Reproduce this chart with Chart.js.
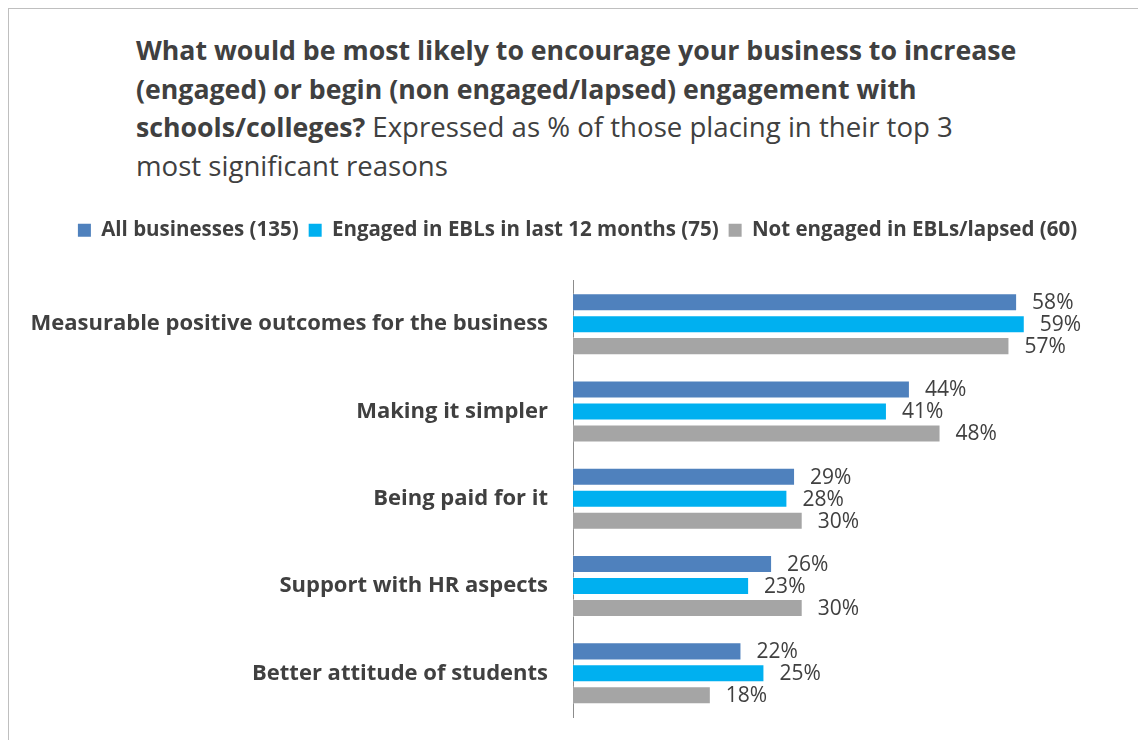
<!DOCTYPE html>
<html>
<head>
<meta charset="utf-8">
<script src="https://cdn.jsdelivr.net/npm/chart.js@4.4.1/dist/chart.umd.min.js"></script>
<style>
  html, body { margin: 0; padding: 0; background: #fff; overflow: hidden; }
  body { width: 1138px; height: 740px; position: relative; font-family: "Open Sans", sans-serif; }
  .frame { position: absolute; left: 8px; top: 8px; width: 1300px; height: 900px; border: 1px solid #bfbfbf; box-sizing: border-box; }
  .title { position: absolute; left: 136px; top: 30px; font-size: 27.6px; color: #404040; white-space: nowrap; }
  .title div { height: 38.6px; line-height: 38.6px; overflow: visible; }
  .title b { font-weight: 700; font-size: 26.7px; }
  #wrap { position: absolute; left: 0; top: 0; width: 1138px; height: 740px; }
</style>
</head>
<body>
<div class="frame"></div>
<div class="title">
  <div><b>What would be most likely to encourage your business to increase</b></div>
  <div><b>(engaged) or begin (non engaged/lapsed) engagement with</b></div>
  <div><b>schools/colleges?</b> Expressed as % of those placing in their top 3</div>
  <div>most significant reasons</div>
</div>
<div id="wrap"><canvas id="chart"></canvas></div>
<script>
// categories and series values (%)
const categories = [
  'Measurable positive outcomes for the business',
  'Making it simpler',
  'Being paid for it',
  'Support with HR aspects',
  'Better attitude of students'
];
const seriesNames = [
  'All businesses (135)',
  'Engaged in EBLs in last 12 months (75)',
  'Not engaged in EBLs/lapsed (60)'
];
const allBusinesses = [58, 44, 29, 26, 22];
const engaged = [59, 41, 28, 23, 25];
const notEngaged = [57, 48, 30, 30, 18];
const seriesColors = ['#4f81bd', '#00b0f0', '#a5a5a5'];

const textColor = '#404040';
const fontFamily = '"Open Sans", sans-serif';

// percentage labels at the end of each bar
const barLabels = {
  id: 'barLabels',
  afterDatasetsDraw(chart) {
    const ctx = chart.ctx;
    ctx.save();
    ctx.font = '21px ' + fontFamily;
    ctx.fillStyle = textColor;
    ctx.textAlign = 'left';
    ctx.textBaseline = 'middle';
    chart.data.datasets.forEach((ds, i) => {
      chart.getDatasetMeta(i).data.forEach((bar, j) => {
        ctx.fillText(ds.data[j] + '%', bar.x + 15, bar.y + 1);
      });
    });
    ctx.restore();
  }
};

// more room under the legend, and the legend nudged right
const legendTweak = {
  id: 'legendTweak',
  beforeUpdate(chart) {
    const lg = chart.legend;
    if (lg && !lg._gapPatched) {
      const fit = lg.fit;
      lg.fit = function () { fit.call(this); this.height += 30; };
      lg._gapPatched = true;
    }
  },
  afterLayout(chart) {
    chart.legend.left += 23;
    chart.legend.right += 23;
  }
};

new Chart(document.getElementById('chart'), {
  type: 'bar',
  data: {
    labels: categories,
    datasets: [allBusinesses, engaged, notEngaged].map((vals, i) => ({
      label: seriesNames[i],
      data: vals,
      backgroundColor: seriesColors[i],
      borderColor: 'rgba(255,255,255,0.35)',
      borderWidth: 1,
      categoryPercentage: 0.755,
      barPercentage: 0.82
    }))
  },
  options: {
    indexAxis: 'y',
    responsive: true,
    maintainAspectRatio: false,
    animation: false,
    layout: { padding: { top: 210, right: 29, bottom: 23, left: 0 } },
    plugins: {
      legend: {
        position: 'top',
        align: 'center',
        labels: {
          boxWidth: 13,
          boxHeight: 13,
          padding: 10,
          color: textColor,
          font: { family: fontFamily, size: 20.5, weight: 'bold' },
          generateLabels(chart) {
            return Chart.defaults.plugins.legend.labels.generateLabels(chart)
              .map(item => Object.assign(item, { lineWidth: 0 }));
          }
        }
      },
      tooltip: { enabled: false }
    },
    scales: {
      x: { display: false, min: 0, max: 70 },
      y: {
        grid: { display: false, drawTicks: false },
        border: { display: true, color: '#8c8c8c', width: 1 },
        ticks: {
          padding: 25,
          color: textColor,
          font: { family: fontFamily, size: 22, weight: 'bold' }
        },
        afterFit(scale) {
          scale.width = 573;
          // category labels sit inside their bands, no extra room needed
          scale.paddingTop = 0;
          scale.paddingBottom = 0;
        }
      }
    }
  },
  plugins: [barLabels, legendTweak]
});
</script>
</body>
</html>
